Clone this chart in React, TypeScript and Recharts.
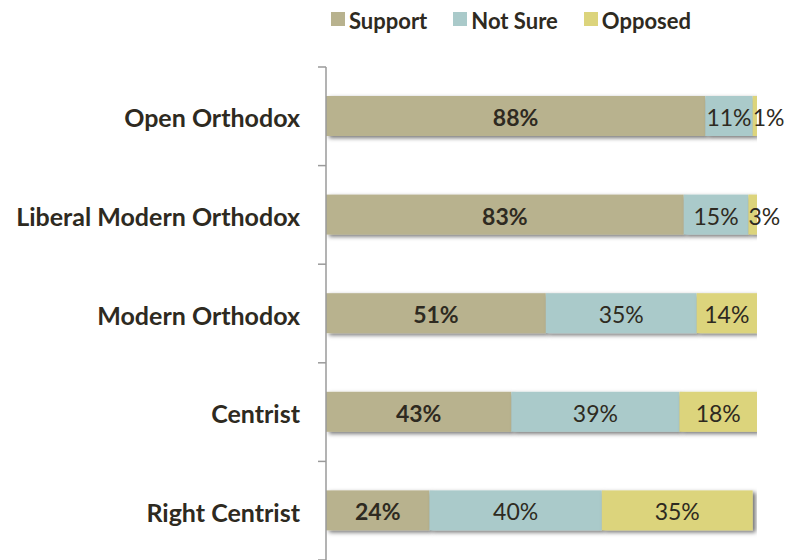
import { Bar, BarChart, LabelList, Legend, XAxis, YAxis } from "recharts";

const categories = [
  "Open Orthodox",
  "Liberal Modern Orthodox",
  "Modern Orthodox",
  "Centrist",
  "Right Centrist",
];
const seriesNames = ["Support", "Not Sure", "Opposed"];
const support = [88, 83, 51, 43, 24];
const notSure = [11, 15, 35, 39, 40];
const opposed = [1, 3, 14, 18, 35];

const W = 789;
const H = 560;
const PLOT_TOP = 67;
const AXIS_X = 326;
const BAND = (H - PLOT_TOP) / categories.length;
const FONT = "Lato, 'Open Sans', sans-serif";
const INK = "#2e2a21";

const rows = categories.map((name, i) => ({
  name,
  support: support[i],
  notSure: notSure[i],
  opposed: opposed[i],
}));

// Excel-style axis: tick marks sit between categories, not on them
function CategoryTick(props: any) {
  const { y, payload, index } = props;
  const top = y - BAND / 2;
  return (
    <g>
      <line x1={AXIS_X - 8} x2={AXIS_X} y1={top} y2={top} stroke="#9a9a9a" strokeWidth={1.5} />
      {index === categories.length - 1 && (
        <line x1={AXIS_X - 8} x2={AXIS_X} y1={top + BAND} y2={top + BAND} stroke="#9a9a9a" strokeWidth={1.5} />
      )}
      <text
        x={AXIS_X - 26}
        y={y + 1}
        textAnchor="end"
        dominantBaseline="central"
        fontFamily={FONT}
        fontWeight={700}
        fontSize={25}
        fill={INK}
      >
        {payload.value}
      </text>
    </g>
  );
}

function segmentLabel(bold: boolean) {
  return (props: any) => {
    const { x, y, width, height, value } = props;
    const narrow = width < 26;
    return (
      <text
        x={narrow ? x : x + width / 2}
        y={y + height / 2 + 1}
        textAnchor={narrow ? "start" : "middle"}
        dominantBaseline="central"
        fontFamily={FONT}
        fontWeight={bold ? 700 : 400}
        fontSize={23}
        fill={INK}
      >
        {`${value}%`}
      </text>
    );
  };
}

function shadowed(props: any) {
  const { x, y, width, height, fill } = props;
  return <rect x={x} y={y} width={width} height={height} fill={fill} filter="url(#barShadow)" />;
}

function LegendContent({ payload }: any) {
  const items = seriesNames
    .map((n) => (payload ?? []).find((p: any) => p.value === n))
    .filter(Boolean);
  return (
    <div style={{ display: "flex", alignItems: "center", height: 34, paddingLeft: 331 }}>
      {items.map((p: any) => (
        <div key={p.value} style={{ display: "flex", alignItems: "center", marginRight: 26 }}>
          <span style={{ width: 14, height: 14, background: p.color, marginRight: 4, marginTop: -2 }} />
          <span style={{ fontFamily: FONT, fontWeight: 700, fontSize: 22, color: INK }}>{p.value}</span>
        </div>
      ))}
    </div>
  );
}

export default function App() {
  return (
    <div style={{ position: "absolute", left: 0, top: 0, background: "#fff" }}>
      <BarChart
        width={W}
        height={H}
        data={rows}
        layout="vertical"
        margin={{ top: PLOT_TOP - 34, right: 32, left: 0, bottom: 0 }}
      >
        <defs>
          <filter id="barShadow" x="-10%" y="-30%" width="130%" height="170%">
            <feDropShadow dx={3} dy={2} stdDeviation={2} floodColor="#000" floodOpacity={0.55} />
          </filter>
        </defs>
        <XAxis type="number" domain={[0, 100]} hide allowDataOverflow />
        <YAxis
          type="category"
          dataKey="name"
          width={AXIS_X}
          axisLine={{ stroke: "#9a9a9a", strokeWidth: 1.5 }}
          tickLine={false}
          tick={<CategoryTick />}
          interval={0}
        />
        <Legend
          verticalAlign="top"
          wrapperStyle={{ top: 3 }}
          content={<LegendContent />}
        />
        <Bar dataKey="support" name={seriesNames[0]} stackId="a" fill="#b8b28e" barSize={40} shape={shadowed} isAnimationActive={false}>
          <LabelList dataKey="support" content={segmentLabel(true)} />
        </Bar>
        <Bar dataKey="notSure" name={seriesNames[1]} stackId="a" fill="#aacaca" barSize={40} shape={shadowed} isAnimationActive={false}>
          <LabelList dataKey="notSure" content={segmentLabel(false)} />
        </Bar>
        <Bar dataKey="opposed" name={seriesNames[2]} stackId="a" fill="#dcd47c" barSize={40} shape={shadowed} isAnimationActive={false}>
          <LabelList dataKey="opposed" content={segmentLabel(false)} />
        </Bar>
      </BarChart>
    </div>
  );
}
